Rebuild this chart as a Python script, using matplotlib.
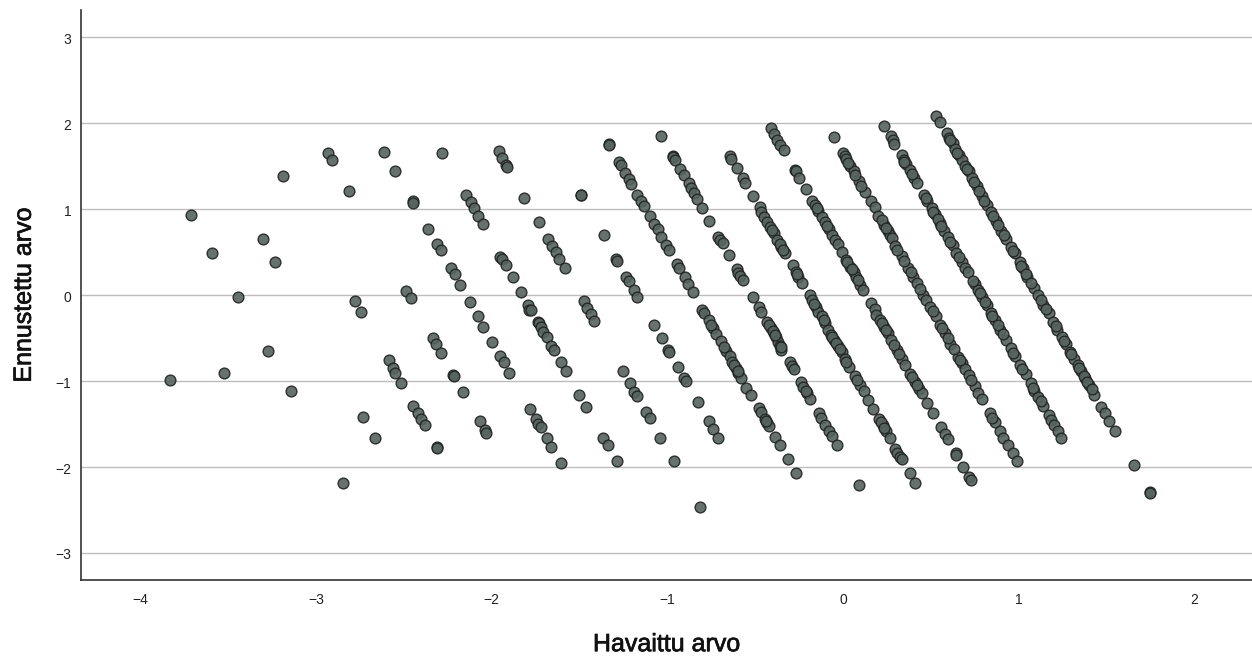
import matplotlib
matplotlib.use('Agg')
import matplotlib.pyplot as plt
import matplotlib.patheffects as pe
from matplotlib.transforms import ScaledTranslation

plt.rcParams['font.family'] = ['Liberation Sans', 'DejaVu Sans']

# scattered points on the left side
left_pts = [(-3.71,0.93),(-3.59,0.49),(-3.30,0.65),(-3.23,0.38),(-3.445,-0.02),(-3.27,-0.65),(-3.83,-0.99),
            (-3.525,-0.91),(-3.14,-1.12),(-3.185,1.39),(-2.93,1.65),(-2.91,1.57),(-2.81,1.21),(-2.61,1.67),
            (-2.55,1.44),(-2.45,1.09),(-2.445,1.07),(-2.28,1.65),(-2.78,-0.07),(-2.745,-0.20),(-2.73,-1.42),
            (-2.665,-1.66),(-2.845,-2.19),(-2.485,0.05),(-2.46,-0.04)]
strand_1 = [(-2.36,0.77),(-2.31,0.59),(-2.29,0.52),(-2.23,0.31),(-2.21,0.24),(-2.18,0.12),(-2.125,-0.08),
            (-2.08,-0.25),(-2.05,-0.37),(-1.995,-0.55),(-1.95,-0.71),(-1.93,-0.78),(-1.90,-0.905)]
strand_2 = [(-2.145,1.16),(-2.12,1.08),(-2.10,1.01),(-2.08,0.92),(-2.05,0.83)]
strand_3 = [(-1.96,1.675),(-1.94,1.60),(-1.92,1.515),(-1.91,1.49),(-1.815,1.13),(-1.95,0.445),(-1.94,0.42),
            (-1.92,0.35),(-1.88,0.21),(-1.83,0.035),(-1.795,-0.115),(-1.785,-0.175),(-1.775,-0.18),
            (-1.735,-0.32),(-1.73,-0.33),(-1.72,-0.37),(-1.705,-0.43),(-1.685,-0.49),(-1.66,-0.595),
            (-1.645,-0.64),(-1.605,-0.785),(-1.575,-0.89)]
strand_4 = [(-2.335,-0.505),(-2.315,-0.57),(-2.29,-0.67),(-2.585,-0.76),(-2.56,-0.855),(-2.55,-0.905),
            (-2.515,-1.025),(-2.22,-0.93),(-2.215,-0.94),(-2.16,-1.13),(-2.445,-1.29),(-2.42,-1.38),
            (-2.40,-1.45),(-2.38,-1.52),(-2.31,-1.77),(-2.31,-1.78),(-2.065,-1.47),(-2.04,-1.57),(-2.03,-1.61)]
strand_5 = [(-1.49,1.16),(-1.49,1.165),(-1.73,0.85),(-1.68,0.65),(-1.655,0.57),(-1.635,0.50),(-1.615,0.42),
            (-1.58,0.31),(-1.36,0.70),(-1.29,0.415),(-1.285,0.40),(-1.235,0.21),(-1.22,0.165),(-1.19,0.06),
            (-1.17,-0.02),(-1.475,-0.07),(-1.455,-0.155),(-1.435,-0.225),(-1.415,-0.30)]
strand_6 = [(-1.075,-0.345),(-1.03,-0.505),(-0.995,-0.64),(-0.99,-0.66),(-0.94,-0.84),(-0.905,-0.97),(-0.895,-1.0),
            (-0.825,-1.25),(-0.765,-1.47),(-0.74,-1.565),(-0.71,-1.66),(-0.815,-2.47),(-0.96,-1.935),(-1.04,-1.66),
            (-1.12,-1.36),(-1.10,-1.43),(-1.25,-0.89),(-1.21,-1.03),(-1.19,-1.125),(-1.175,-1.175),(-1.50,-1.17),
            (-1.46,-1.31),(-1.78,-1.33),(-1.745,-1.45),(-1.735,-1.50),(-1.72,-1.54),(-1.685,-1.66),(-1.66,-1.77),
            (-1.605,-1.955),(-1.365,-1.66),(-1.34,-1.75),(-1.285,-1.935)]
strand_a = [(-1.33,1.76),(-1.33,1.75),(-1.275,1.555),(-1.265,1.51),(-1.24,1.42),(-1.22,1.35),(-1.205,1.29),
            (-1.17,1.16),(-1.15,1.09),(-1.135,1.04),(-1.10,0.925),(-1.075,0.83),(-1.055,0.765),(-1.035,0.68),
            (-1.005,0.58),(-0.99,0.53),(-0.945,0.36),(-0.935,0.31),(-0.90,0.205),(-0.88,0.13),(-0.855,0.03),
            (-0.80,-0.175),(-0.79,-0.205),(-0.765,-0.29),(-0.74,-0.39),(-0.72,-0.455),(-0.695,-0.535),
            (-0.665,-0.65),(-0.645,-0.71),(-0.63,-0.785),(-0.61,-0.855),(-0.595,-0.905),(-0.58,-0.965),
            (-0.55,-1.08),(-0.525,-1.17),(-0.48,-1.32),(-0.465,-1.365),(-0.445,-1.45),(-0.435,-1.49),
            (-0.42,-1.525),(-0.385,-1.655),(-0.36,-1.75),(-0.315,-1.91),(-0.27,-2.07)]
strand_b = [(-1.035,1.85),(-0.97,1.62),(-0.965,1.605),(-0.955,1.575),(-0.925,1.465),(-0.905,1.395),(-0.875,1.30),
            (-0.865,1.25),(-0.85,1.185),(-0.83,1.115),(-0.80,1.015),(-0.76,0.86),(-0.71,0.68),(-0.70,0.64),
            (-0.685,0.60),(-0.65,0.47),(-0.605,0.30),(-0.595,0.26),(-0.585,0.225),(-0.57,0.18),(-0.515,-0.02),
            (-0.48,-0.14),(-0.465,-0.195),(-0.435,-0.31),(-0.41,-0.38),(-0.395,-0.445),(-0.38,-0.495),
            (-0.37,-0.545),(-0.36,-0.595),(-0.35,-0.635),(-0.30,-0.785),(-0.29,-0.825),(-0.28,-0.865),
            (-0.24,-1.01),(-0.225,-1.07),(-0.205,-1.14),(-0.185,-1.21),(-0.135,-1.38),(-0.125,-1.435),
            (-0.10,-1.515),(-0.08,-1.585),(-0.065,-1.645),(-0.035,-1.75),(0.09,-2.21)]
strand_c = [(-0.645,1.62),(-0.635,1.58),(-0.605,1.475),(-0.57,1.36),(-0.56,1.31),(-0.515,1.155),(-0.475,1.02),
            (-0.465,0.97),(-0.45,0.91),(-0.43,0.855),(-0.415,0.795),(-0.395,0.725),(-0.375,0.64),(-0.35,0.555),
            (-0.33,0.485),(-0.285,0.35),(-0.27,0.27),(-0.255,0.215),(-0.235,0.145),(-0.19,0.0),(-0.175,-0.06),
            (-0.155,-0.135),(-0.14,-0.195),(-0.12,-0.25),(-0.10,-0.33),(-0.085,-0.41),(-0.07,-0.465),
            (-0.05,-0.525),(-0.03,-0.595),(-0.005,-0.66),(0.01,-0.74),(0.035,-0.835),(0.07,-0.945),(0.095,-1.05),
            (0.12,-1.12),(0.145,-1.225),(0.17,-1.33),(0.205,-1.45),(0.225,-1.515),(0.245,-1.585),(0.265,-1.66),
            (0.295,-1.79),(0.31,-1.84),(0.325,-1.885),(0.335,-1.905),(0.38,-2.07),(0.41,-2.19)]
strand_d = [(-0.41,1.95),(-0.39,1.87),(-0.375,1.80),(-0.36,1.75),(-0.335,1.69),(-0.275,1.46),(-0.27,1.44),
            (-0.25,1.365),(-0.21,1.23),(-0.175,1.10),(-0.16,1.05),(-0.14,0.98),(-0.12,0.91),(-0.105,0.855),
            (-0.08,0.765),(-0.065,0.70),(-0.045,0.64),(-0.03,0.595),(-0.005,0.50),(0.015,0.41),(0.04,0.33),
            (0.06,0.265),(0.075,0.215),(0.095,0.115),(0.115,0.06),(0.16,-0.09),(0.18,-0.165),(0.19,-0.235),
            (0.21,-0.29),(0.235,-0.37),(0.255,-0.445),(0.275,-0.525),(0.31,-0.64),(0.335,-0.74),(0.355,-0.815),
            (0.38,-0.915),(0.41,-1.01),(0.43,-1.09),(0.45,-1.145),(0.48,-1.26),(0.51,-1.38),(0.56,-1.54),
            (0.58,-1.625),(0.60,-1.68),(0.645,-1.845),(0.645,-1.86),(0.685,-2.0),(0.72,-2.12),(0.73,-2.16)]
strand_e = [(-0.05,1.835),(0.0,1.65),(0.01,1.62),(0.02,1.58),(0.04,1.505),(0.06,1.44),(0.09,1.33),(0.125,1.205),
            (0.16,1.09),(0.18,1.02),(0.20,0.92),(0.235,0.815),(0.255,0.75),(0.27,0.70),(0.28,0.66),(0.295,0.57),
            (0.335,0.455),(0.37,0.32),(0.40,0.215),(0.42,0.145),(0.455,0.0),(0.47,-0.06),(0.495,-0.135),
            (0.53,-0.25),(0.55,-0.35),(0.58,-0.445),(0.61,-0.565),(0.655,-0.72),(0.675,-0.795),(0.695,-0.865),
            (0.715,-0.93),(0.75,-1.06),(0.77,-1.14),(0.79,-1.21),(0.835,-1.38),(0.865,-1.475),(0.895,-1.585),
            (0.91,-1.66),(0.94,-1.75),(0.965,-1.84),(0.99,-1.935)]
strand_f = [(0.235,1.97),(0.275,1.85),(0.285,1.805),(0.29,1.76),(0.335,1.63),(0.345,1.575),(0.36,1.525),(0.38,1.455),
            (0.405,1.365),(0.42,1.31),(0.46,1.165),(0.48,1.095),(0.505,1.01),(0.525,0.945),(0.55,0.835),(0.575,0.75),
            (0.60,0.67),(0.625,0.58),(0.645,0.485),(0.675,0.39),(0.695,0.32),(0.71,0.265),(0.75,0.125),(0.77,0.06),
            (0.79,-0.02),(0.82,-0.115),(0.84,-0.215),(0.865,-0.29),(0.895,-0.41),(0.93,-0.525),(0.955,-0.62),
            (0.98,-0.71),(1.005,-0.815),(1.04,-0.925),(1.07,-1.03),(1.09,-1.12),(1.11,-1.19),(1.14,-1.29),
            (1.17,-1.40),(1.185,-1.455),(1.20,-1.515),(1.225,-1.59),(1.24,-1.66)]
strand_g = [(0.53,2.09),(0.55,2.01),(0.59,1.885),(0.605,1.825),(0.625,1.77),(0.64,1.70),(0.66,1.63),(0.675,1.575),
            (0.695,1.505),(0.715,1.445),(0.735,1.36),(0.76,1.27),(0.79,1.155),(0.82,1.05),(0.84,0.97),(0.87,0.865),
            (0.90,0.745),(0.93,0.65),(0.955,0.56),(0.98,0.485),(1.005,0.38),(1.025,0.31),(1.05,0.215),(1.085,0.085),
            (1.11,0.0),(1.14,-0.115),(1.17,-0.215),(1.195,-0.31),(1.22,-0.41),(1.245,-0.495),(1.27,-0.575),
            (1.29,-0.66),(1.315,-0.74),(1.335,-0.81),(1.355,-0.885),(1.38,-0.965),(1.40,-1.05),(1.43,-1.165),
            (1.47,-1.30),(1.49,-1.38),(1.515,-1.47),(1.55,-1.59),(1.655,-1.98),(1.745,-2.29),(1.75,-2.31)]

# overlapping points in the crowded parts of the strands
crowded_a = [(-0.75,-0.35),(-0.68,-0.60),(-0.62,-0.82),(-0.60,-0.88),(-0.44,-1.47)]
crowded_b = [(-0.42,-0.35),(-0.40,-0.42),(-0.385,-0.47),(-0.355,-0.61),(-0.21,-1.12)]
crowded_c = [(-0.405,0.76),(-0.36,0.59),(-0.34,0.52),(-0.26,0.24),(-0.165,-0.10),(-0.11,-0.29),(-0.06,-0.49),
             (-0.04,-0.56),(-0.015,-0.63),(0.02,-0.78),(0.08,-0.99),(0.215,-1.48),(0.235,-1.55)]
crowded_d = [(-0.15,1.01),(-0.09,0.80),(0.025,0.38),(0.05,0.30),(0.085,0.17),(0.22,-0.33),(0.245,-0.41),
             (0.29,-0.58),(0.32,-0.69),(0.395,-0.96),(0.42,-1.05)]
crowded_e = [(0.03,1.54),(0.07,1.40),(0.105,1.27),(0.22,0.87),(0.245,0.78),(0.31,0.52),(0.35,0.40),(0.385,0.27),
             (0.44,0.07),(0.51,-0.19),(0.565,-0.39),(0.595,-0.50),(0.63,-0.63),(0.665,-0.76),(0.73,-0.99),(0.85,-1.43)]
crowded_f = [(0.35,1.55),(0.39,1.41),(0.47,1.13),(0.515,0.97),(0.54,0.88),(0.56,0.80),(0.61,0.62),(0.66,0.44),
             (0.74,0.16),(0.78,0.02),(0.81,-0.08),(0.85,-0.25),(0.88,-0.35),(0.91,-0.46),(0.97,-0.67),(1.02,-0.86),
             (1.08,-1.08),(1.125,-1.24)]
crowded_g = [(0.61,1.80),(0.65,1.66),(0.705,1.47),(0.745,1.32),(0.775,1.21),(0.805,1.10),(0.855,0.92),(0.885,0.81),
             (0.915,0.70),(0.97,0.51),(1.015,0.34),(1.04,0.25),(1.07,0.14),(1.125,-0.06),(1.155,-0.16),(1.21,-0.36),
             (1.26,-0.54),(1.30,-0.69),(1.345,-0.85),(1.37,-0.94),(1.39,-1.01),(1.415,-1.10)]

groups = [left_pts, strand_1, strand_2, strand_3, strand_4, strand_5, strand_6,
          strand_a, strand_b, strand_c, strand_d, strand_e, strand_f, strand_g,
          crowded_a, crowded_b, crowded_c, crowded_d, crowded_e, crowded_f, crowded_g]

x_ticks = [-4, -3, -2, -1, 0, 1, 2]
y_ticks = [-3, -2, -1, 0, 1, 2, 3]

fig = plt.figure(figsize=(12.52, 6.57), dpi=100, facecolor='white')
ax = fig.add_axes([81 / 1252, 77 / 657, 1171 / 1252, 570 / 657])

ax.yaxis.grid(True, color='#bdbdbd', linewidth=1)
ax.set_axisbelow(True)

for pts in groups:
    xs = [p[0] for p in pts]
    ys = [p[1] for p in pts]
    ax.scatter(xs, ys, s=60, facecolor='#56635e', edgecolor='#1f2321', linewidth=1, alpha=0.9, zorder=3)

ax.set_xlim(-4.337, 2.328)
ax.set_ylim(-3.32, 3.32)
ax.set_xticks(x_ticks)
ax.set_yticks(y_ticks)
ax.tick_params(axis='x', length=0, labelsize=10, labelcolor='#222222', pad=9)
ax.tick_params(axis='y', length=0, labelsize=10, labelcolor='#222222', pad=7)

# y tick labels sit a little under their grid lines
nudge = ScaledTranslation(0, -1.0 / 72, fig.dpi_scale_trans)
for lbl in ax.get_yticklabels():
    lbl.set_transform(lbl.get_transform() + nudge)

for side in ['top', 'right']:
    ax.spines[side].set_visible(False)
for side in ['left', 'bottom']:
    ax.spines[side].set_color('#333333')
    ax.spines[side].set_linewidth(1.2)

# labels are a bit heavier than the regular weight
heavier = [pe.withStroke(linewidth=0.5, foreground='#111111')]
ax.set_xlabel('Havaittu arvo', fontsize=18, color='#111111', labelpad=18.5, path_effects=heavier)
ax.set_ylabel('Ennustettu arvo', fontsize=18, color='#111111', labelpad=14, path_effects=heavier)

fig.savefig('out.png', dpi=100, facecolor='white')
